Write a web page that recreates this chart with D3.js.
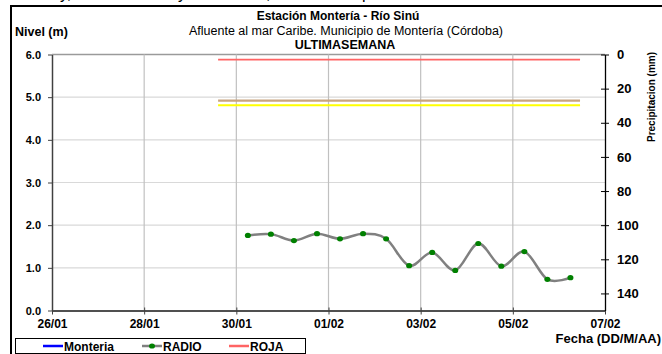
<!DOCTYPE html>
<html><head><meta charset="utf-8">
<script src="https://cdn.jsdelivr.net/npm/d3@7"></script>
<style>
html,body{margin:0;padding:0;background:#fff;}
svg{display:block;font-family:"Liberation Sans",Arial,sans-serif;}
</style></head>
<body>
<svg id="c" width="662" height="354"></svg>
<script>
// ---- data ----
const xTickLabels = ["26/01","28/01","30/01","01/02","03/02","05/02","07/02"];
const levelTicks = [0,1,2,3,4,5,6];
const rainTicks = [0,20,40,60,80,100,120,140];
const radioTimes = ["30/01 06:00","30/01 18:00","31/01 06:00","31/01 18:00","01/02 06:00","01/02 18:00","02/02 06:00","02/02 18:00","03/02 06:00","03/02 18:00","04/02 06:00","04/02 18:00","05/02 06:00","05/02 18:00","06/02 06:00"];
const radioLevels = [1.76,1.79,1.64,1.80,1.68,1.80,1.68,1.05,1.36,0.94,1.57,1.04,1.38,0.73,0.77];
const alertNames = ["ROJA","NARANJA","AMARILLA"];
const alertLevels = [5.88,4.92,4.81];
const alertColors = ["#ff6464","#c8a47e","#ffff00"];
const alertStart = "29/01 14:30";
const alertEnd = "06/02 11:00";
const legendNames = ["Monteria","RADIO","ROJA"];
const legendColors = ["#0000ff","#808080","#ff6464"];

const YEAR = 2015;
function parse(s){ // "DD/MM HH:MM"
  const [d,t] = s.split(" ");
  const [dd,mm] = d.split("/").map(Number);
  const [hh,mi] = (t||"00:00").split(":").map(Number);
  return new Date(YEAR, mm-1, dd, hh, mi);
}

const svg = d3.select("#c");
const x = d3.scaleTime().domain([parse("26/01"), parse("07/02")]).range([52, 605]);
const y = d3.scaleLinear().domain([0,6]).range([310.5, 54.5]);
const y2 = d3.scaleLinear().domain([0,150]).range([54.5, 310.5]);

// cut-off text at very top (from page above)
[["y,",60],["y",178],[",",266],["p",362]].forEach(([t,px])=>{
  svg.append("text").attr("x",px).attr("y",-1).attr("font-size",16).attr("fill","#000").text(t);
});

// outer frame
svg.append("line").attr("x1",10).attr("x2",662).attr("y1",6).attr("y2",6).attr("stroke","#000").attr("stroke-width",2);
svg.append("line").attr("x1",11).attr("x2",11).attr("y1",5).attr("y2",354).attr("stroke","#000").attr("stroke-width",2);

// titles
svg.append("text").attr("x",338).attr("y",20).attr("text-anchor","middle").attr("font-size",12).attr("font-weight","bold").text("Estación Montería - Río Sinú");
svg.append("text").attr("x",346).attr("y",35).attr("text-anchor","middle").attr("font-size",12.5).text("Afluente al mar Caribe. Municipio de Montería (Córdoba)");
svg.append("text").attr("x",345).attr("y",49).attr("text-anchor","middle").attr("font-size",12.5).attr("font-weight","bold").text("ULTIMASEMANA");
svg.append("text").attr("x",15).attr("y",36).attr("font-size",12.5).attr("font-weight","bold").text("Nivel (m)");

// gridlines
const g = svg.append("g");
g.selectAll(".hg").data(levelTicks.filter(v=>v>0)).join("line")
  .attr("x1",x.range()[0]).attr("x2",x.range()[1])
  .attr("y1",d=>y(d)).attr("y2",d=>y(d))
  .attr("stroke",d=>d===6?"#9a9a9a":"#d9d9d9").attr("stroke-width",d=>d===6?1.5:1.2);
g.selectAll(".vg").data(xTickLabels.slice(1,-1)).join("line")
  .attr("x1",d=>x(parse(d))).attr("x2",d=>x(parse(d)))
  .attr("y1",y(6)).attr("y2",y(0))
  .attr("stroke","#c0c0c0").attr("stroke-width",1.2);

// alert lines
alertLevels.forEach((v,i)=>{
  svg.append("line").attr("x1",x(parse(alertStart))).attr("x2",x(parse(alertEnd)))
    .attr("y1",y(v)).attr("y2",y(v)).attr("stroke",alertColors[i]).attr("stroke-width",i===1?2.2:1.8);
});

// axes
const axL = svg.append("g").attr("transform",`translate(${x.range()[0]},0)`)
  .call(d3.axisLeft(y).tickValues(levelTicks).tickFormat(d3.format(".1f")).tickSize(4).tickSizeOuter(0));
axL.select(".domain").attr("stroke","#404040").attr("stroke-width",1.5);
axL.selectAll(".tick line").attr("stroke","#404040");
axL.selectAll("text").attr("font-size",11).attr("font-weight","bold").attr("font-family","Liberation Sans, Arial").attr("dx",-4).attr("fill","#000");

const axB = svg.append("g").attr("transform",`translate(0,${y(0)})`)
  .call(d3.axisBottom(x).tickValues(xTickLabels.map(parse)).tickFormat(d3.timeFormat("%d/%m")).tickSize(4).tickSizeOuter(0));
axB.select(".domain").attr("stroke","#505050").attr("stroke-width",2);
axB.selectAll(".tick line").attr("stroke","#404040").attr("y1",-3);
axB.selectAll("text").attr("font-size",12).attr("font-weight","bold").attr("font-family","Liberation Sans, Arial").attr("dy","0.85em").attr("fill","#000");

const axR = svg.append("g").attr("transform",`translate(${x.range()[1]},0)`)
  .call(d3.axisRight(y2).tickValues(rainTicks).tickSize(4).tickSizeOuter(0));
axR.select(".domain").attr("stroke","#000").attr("stroke-width",1.3);
axR.selectAll(".tick line").attr("stroke","#000").attr("x1",-4);
axR.selectAll("text").attr("font-size",13).attr("font-weight","bold").attr("font-family","Liberation Sans, Arial").attr("dx",5).attr("fill","#000");

svg.append("text").attr("transform","translate(655,97) rotate(-90)").attr("text-anchor","middle")
  .attr("font-size",10).attr("font-weight","bold").text("Precipitacion (mm)");

// radio series
const pts = radioTimes.map((t,i)=>({t:parse(t), v:radioLevels[i]}));
svg.append("path").datum(pts)
  .attr("d", d3.line().x(d=>x(d.t)).y(d=>y(d.v)).curve(d3.curveCatmullRom.alpha(0)))
  .attr("fill","none").attr("stroke","#808080").attr("stroke-width",2.5);
svg.selectAll(".pt").data(pts).join("ellipse")
  .attr("cx",d=>x(d.t)).attr("cy",d=>y(d.v)).attr("rx",3).attr("ry",2.6).attr("fill","#008000");

// x axis title
svg.append("text").attr("x",661).attr("y",343).attr("text-anchor","end").attr("font-size",13).attr("font-weight","bold").text("Fecha (DD/M/AA)");

// legend
const lg = svg.append("g");
lg.append("rect").attr("x",15.5).attr("y",338.5).attr("width",290).attr("height",15).attr("fill","#fff").attr("stroke","#000").attr("stroke-width",1);
const lx = [43,142,229];
legendNames.forEach((n,i)=>{
  lg.append("line").attr("x1",lx[i]).attr("x2",lx[i]+20).attr("y1",346).attr("y2",346).attr("stroke",legendColors[i]).attr("stroke-width",2.5);
  if(n==="RADIO") lg.append("ellipse").attr("cx",lx[i]+10).attr("cy",346).attr("rx",3).attr("ry",2.6).attr("fill","#008000");
  lg.append("text").attr("x",lx[i]+21).attr("y",350.5).attr("font-size",12).attr("font-weight","bold").text(n);
});
</script>
</body></html>
